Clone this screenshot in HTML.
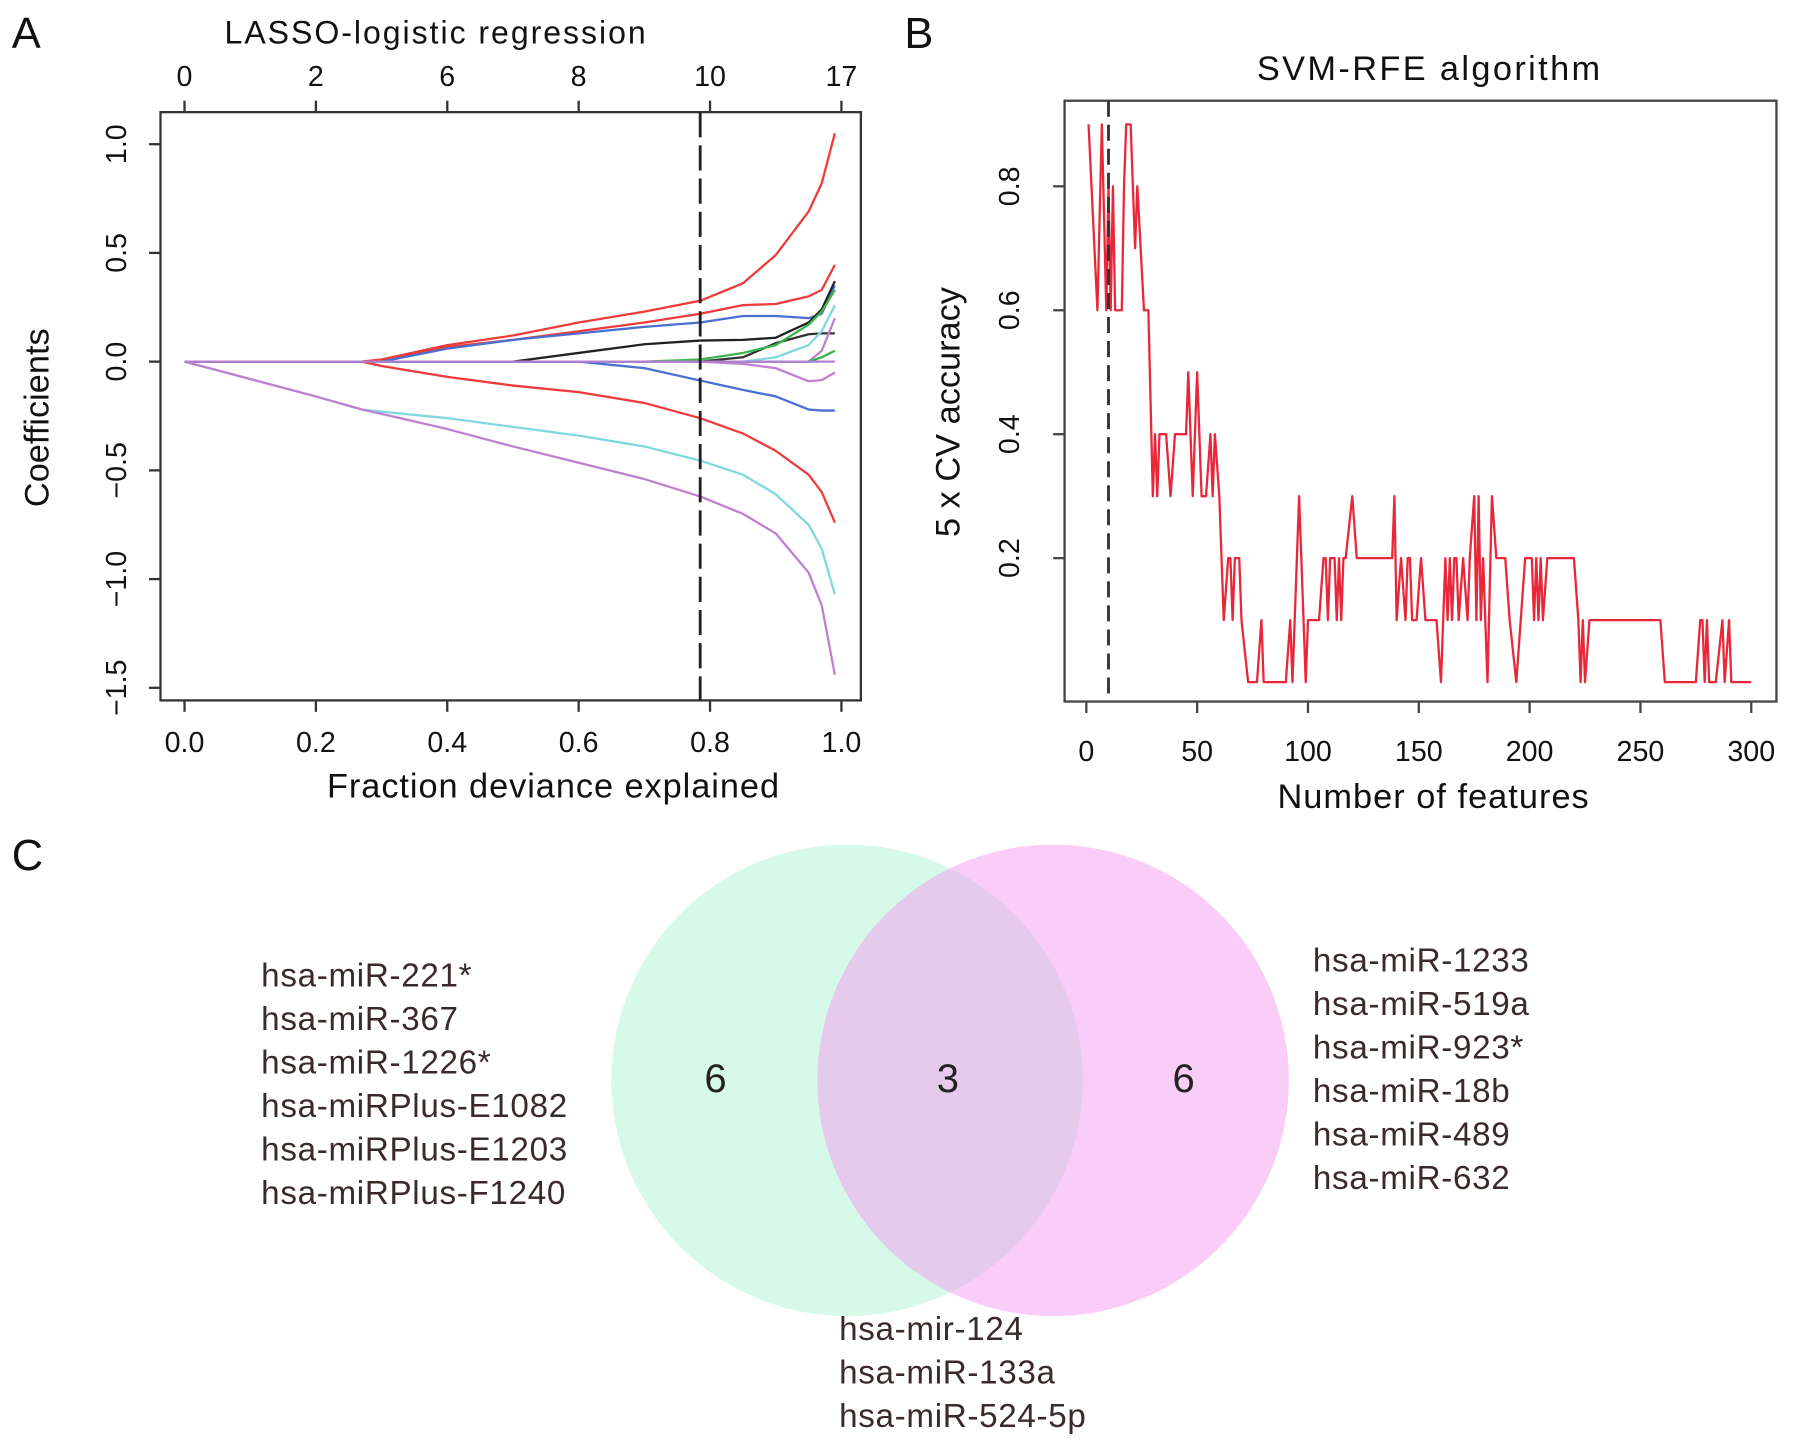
<!DOCTYPE html>
<html><head><meta charset="utf-8"><style>
html,body{margin:0;padding:0;background:#fff;}
svg{display:block;font-family:"Liberation Sans",sans-serif;}
</style></head><body>
<svg id="fig" width="1795" height="1450" viewBox="0 0 1568 1267">
<g id="pA"></g>
<g id="pB"></g>
<g id="pC"></g>
</svg>
<script>
// ---------- Panel A data ----------
const lassoX = [0,0.1,0.2,0.27,0.3,0.4,0.5,0.6,0.7,0.785,0.85,0.9,0.95,0.97,0.99];
const lassoSeries = [
 {name:'red-top', color:'#ee3b3b', v:[0,0,0,0,0.01,0.076,0.12,0.18,0.23,0.28,0.36,0.49,0.69,0.82,1.05]},
 {name:'red-second', color:'#ee3b3b', v:[0,0,0,0,0.01,0.067,0.1,0.14,0.18,0.22,0.26,0.265,0.3,0.33,0.445]},
 {name:'blue-pos', color:'#4a6fd0', v:[0,0,0,0,0,0.06,0.1,0.13,0.16,0.18,0.21,0.21,0.2,0.22,0.35]},
 {name:'black', color:'#222222', v:[0,0,0,0,0,0,0,0.04,0.08,0.097,0.1,0.11,0.18,0.24,0.37]},
 {name:'dark-line', color:'#333333', v:[0,0,0,0,0,0,0,0,0,0,0.02,0.085,0.126,0.13,0.13]},
 {name:'green', color:'#3cb44b', v:[0,0,0,0,0,0,0,0,0,0.01,0.04,0.076,0.17,0.23,0.33]},
 {name:'cyan-pos', color:'#7fd8e0', v:[0,0,0,0,0,0,0,0,0,0,0,0.02,0.076,0.14,0.26]},
 {name:'purple-pos', color:'#c080d0', v:[0,0,0,0,0,0,0,0,0,0,0,0,0,0.05,0.2]},
 {name:'green-small', color:'#3cb44b', v:[0,0,0,0,0,0,0,0,0,0,0,0,0,0.02,0.05]},
 {name:'purple-neg-small', color:'#c080d0', v:[0,0,0,0,0,0,0,0,0,0,-0.01,-0.03,-0.09,-0.085,-0.05]},
 {name:'blue-neg', color:'#4a6fd0', v:[0,0,0,0,0,0,0,0,-0.03,-0.087,-0.13,-0.16,-0.22,-0.225,-0.225]},
 {name:'red-neg', color:'#ee3b3b', v:[0,0,0,0,-0.02,-0.07,-0.11,-0.14,-0.19,-0.26,-0.33,-0.41,-0.52,-0.6,-0.74]},
 {name:'cyan-neg', color:'#7fd8e0', v:[0,-0.08,-0.16,-0.22,-0.23,-0.26,-0.3,-0.34,-0.39,-0.455,-0.52,-0.61,-0.75,-0.86,-1.07]},
 {name:'purple-neg', color:'#c080d0', v:[0,-0.08,-0.16,-0.22,-0.24,-0.31,-0.39,-0.465,-0.54,-0.62,-0.7,-0.79,-0.97,-1.12,-1.44]},
 {name:'zero-line', color:'#b080d0', v:[0,0,0,0,0,0,0,0,0,0,0,0,0,0,0]}
];
const lassoXTicks = [0,0.2,0.4,0.6,0.8,1.0];
const lassoXTickLabels = ['0.0','0.2','0.4','0.6','0.8','1.0'];
const lassoTopLabels = ['0','2','6','8','10','17'];
const lassoYTicks = [1.0,0.5,0.0,-0.5,-1.0,-1.5];
const lassoYTickLabels = ['1.0','0.5','0.0','\u22120.5','\u22121.0','\u22121.5'];
const lassoCut = 0.785;

// ---------- Panel B data ----------
const svmFeatures = [1,5,7,9,10,11,12,13,16,17,18,20,21,22,23,26,28,30,31,32,33,36,38,40,45,46,48,50,52,54,56,57,58,60,62,64,65,66,67,69,70,73,77,79,80,90,92,93,96,99,100,105,107,108,109,110,112,113,114,115,116,117,120,122,138,139,140,142,144,145,146,147,149,151,153,158,160,162,163,164,165,166,167,168,170,172,173,175,176,177,178,179,181,183,185,189,191,194,196,198,201,202,203,204,205,206,208,220,222,223,224,225,227,259,261,275,277,278,279,280,281,284,287,288,290,291,300];
const svmAcc =      [0.9,0.6,0.9,0.6,0.8,0.6,0.8,0.6,0.6,0.8,0.9,0.9,0.8,0.7,0.8,0.6,0.6,0.3,0.4,0.3,0.4,0.4,0.3,0.4,0.4,0.5,0.3,0.5,0.3,0.3,0.4,0.3,0.4,0.3,0.1,0.2,0.2,0.1,0.2,0.2,0.1,0,0,0.1,0,0,0.1,0,0.3,0,0.1,0.1,0.2,0.2,0.1,0.2,0.2,0.1,0.2,0.1,0.2,0.2,0.3,0.2,0.2,0.3,0.1,0.2,0.1,0.2,0.2,0.1,0.1,0.2,0.1,0.1,0,0.2,0.1,0.2,0.1,0.2,0.2,0.1,0.2,0.1,0.2,0.3,0.1,0.3,0.1,0.2,0,0.3,0.2,0.2,0.1,0,0.1,0.2,0.2,0.1,0.2,0.1,0.2,0.1,0.2,0.2,0.1,0,0.1,0,0.1,0.1,0,0,0.1,0.1,0,0.1,0,0,0.1,0,0.1,0,0];
const svmXTicks = [0,50,100,150,200,250,300];
const svmYTicks = [0.2,0.4,0.6,0.8];
const svmCut = 10;

// ---------- Panel C data ----------
const vennCounts = [6,3,6];
const leftList = ['hsa-miR-221*','hsa-miR-367','hsa-miR-1226*','hsa-miRPlus-E1082','hsa-miRPlus-E1203','hsa-miRPlus-F1240'];
const rightList = ['hsa-miR-1233','hsa-miR-519a','hsa-miR-923*','hsa-miR-18b','hsa-miR-489','hsa-miR-632'];
const sharedList = ['hsa-mir-124','hsa-miR-133a','hsa-miR-524-5p'];

const NS='http://www.w3.org/2000/svg';
function mk(parent,tag,attrs,text){const e=document.createElementNS(NS,tag);for(const k in attrs)e.setAttribute(k,attrs[k]);if(text!==undefined)e.textContent=text;parent.appendChild(e);return e;}

// ===== Panel A =====
const A=document.getElementById('pA');
const ax=v=>161+v*574, ay=v=>316-v*190;
let t;
t=mk(A,'text',{x:10,y:42,'font-size':38,fill:'#111'},'A');


t=mk(A,'text',{x:380,y:38,'font-size':28,'text-anchor':'middle',fill:'#111',textLength:368,lengthAdjust:'spacing'},'LASSO-logistic regression');


t=mk(A,'rect',{x:140,y:98,width:612,height:514,fill:'none',stroke:'#333','stroke-width':2});


lassoXTicks.forEach((v,i)=>{
  mk(A,'line',{x1:ax(v),x2:ax(v),y1:612,y2:622,stroke:'#333','stroke-width':2});
  t=mk(A,'text',{x:ax(v),y:657,'font-size':25,'text-anchor':'middle',fill:'#111'},lassoXTickLabels[i]);
  
  
  mk(A,'line',{x1:ax(v),x2:ax(v),y1:98,y2:88,stroke:'#333','stroke-width':2});
  t=mk(A,'text',{x:ax(v),y:75,'font-size':25,'text-anchor':'middle',fill:'#111'},lassoTopLabels[i]);
  
  
});
lassoYTicks.forEach((v,i)=>{
  mk(A,'line',{x1:140,x2:130,y1:ay(v),y2:ay(v),stroke:'#333','stroke-width':2});
  t=mk(A,'text',{x:0,y:0,'font-size':25,'text-anchor':'middle',fill:'#111',transform:`translate(110,${ay(v)}) rotate(-90)`},lassoYTickLabels[i]);
  
  
});
t=mk(A,'text',{x:0,y:0,'font-size':30,'text-anchor':'middle',fill:'#111',transform:'translate(42,365) rotate(-90)'},'Coefficients');


t=mk(A,'text',{x:483,y:697,'font-size':30,'text-anchor':'middle',fill:'#111',textLength:395,lengthAdjust:'spacing'},'Fraction deviance explained');


lassoSeries.forEach(s=>{
  const pts=lassoX.map((x,i)=>ax(x)+','+ay(s.v[i])).join(' ');
  const p=mk(A,'polyline',{points:pts,fill:'none',stroke:s.color,'stroke-width':2,'stroke-linejoin':'round'});
  
  
});
t=mk(A,'line',{x1:ax(lassoCut),x2:ax(lassoCut),y1:98,y2:612,stroke:'#222','stroke-width':2.5,'stroke-dasharray':'22 7'});



// ===== Panel B =====
const B=document.getElementById('pB');
const bx=v=>949+v*(581/300), by=v=>596-v*541.5;
t=mk(B,'text',{x:790,y:42,'font-size':38,fill:'#111'},'B');


t=mk(B,'text',{x:1248,y:70,'font-size':30,'text-anchor':'middle',fill:'#111',textLength:300,lengthAdjust:'spacing'},'SVM-RFE algorithm');


t=mk(B,'rect',{x:930,y:88,width:622,height:525,fill:'none',stroke:'#444','stroke-width':2});


svmXTicks.forEach(v=>{
  mk(B,'line',{x1:bx(v),x2:bx(v),y1:613,y2:623,stroke:'#444','stroke-width':2});
  t=mk(B,'text',{x:bx(v),y:665,'font-size':25,'text-anchor':'middle',fill:'#111'},String(v));
  
  
});
svmYTicks.forEach(v=>{
  mk(B,'line',{x1:930,x2:920,y1:by(v),y2:by(v),stroke:'#444','stroke-width':2});
  t=mk(B,'text',{x:0,y:0,'font-size':25,'text-anchor':'middle',fill:'#111',transform:`translate(890,${by(v)}) rotate(-90)`},v.toFixed(1));
  
  
});
t=mk(B,'text',{x:0,y:0,'font-size':30,'text-anchor':'middle',fill:'#111',transform:'translate(838,360) rotate(-90)'},'5 x CV accuracy');


t=mk(B,'text',{x:1252,y:706,'font-size':30,'text-anchor':'middle',fill:'#111',textLength:272,lengthAdjust:'spacing'},'Number of features');


t=mk(B,'polyline',{points:svmFeatures.map((f,i)=>bx(f)+','+by(svmAcc[i])).join(' '),fill:'none',stroke:'#e8283a','stroke-width':2,'stroke-linejoin':'round'});


t=mk(B,'line',{x1:bx(svmCut),x2:bx(svmCut),y1:88,y2:613,stroke:'#333','stroke-width':2.5,'stroke-dasharray':'14 7'});



// ===== Panel C =====
const C=document.getElementById('pC');
t=mk(C,'text',{x:10,y:760,'font-size':38,fill:'#111'},'C');


t=mk(C,'circle',{cx:740,cy:944,r:206,fill:'#c8f7e2','fill-opacity':0.75});


t=mk(C,'circle',{cx:920,cy:944,r:206,fill:'#f49cf0','fill-opacity':0.5});


[[625,'venn-left-count'],[828,'venn-shared-count'],[1034,'venn-right-count']].forEach((c,i)=>{
  const e=mk(C,'text',{x:c[0],y:954,'font-size':35,'text-anchor':'middle',fill:'#222'},String(vennCounts[i]));
  
  
});
leftList.forEach((s,i)=>{
  const e=mk(C,'text',{x:228,y:862+i*38,'font-size':29,fill:'#3a2a2a','letter-spacing':'0.6'},s);
  
  
});
rightList.forEach((s,i)=>{
  const e=mk(C,'text',{x:1147,y:849+i*38,'font-size':29,fill:'#3a2a2a','letter-spacing':'0.6'},s);
  
  
});
sharedList.forEach((s,i)=>{
  const e=mk(C,'text',{x:733,y:1171+i*38,'font-size':29,fill:'#3a2a2a','letter-spacing':'0.6'},s);
  
  
});
</script>
</body></html>
